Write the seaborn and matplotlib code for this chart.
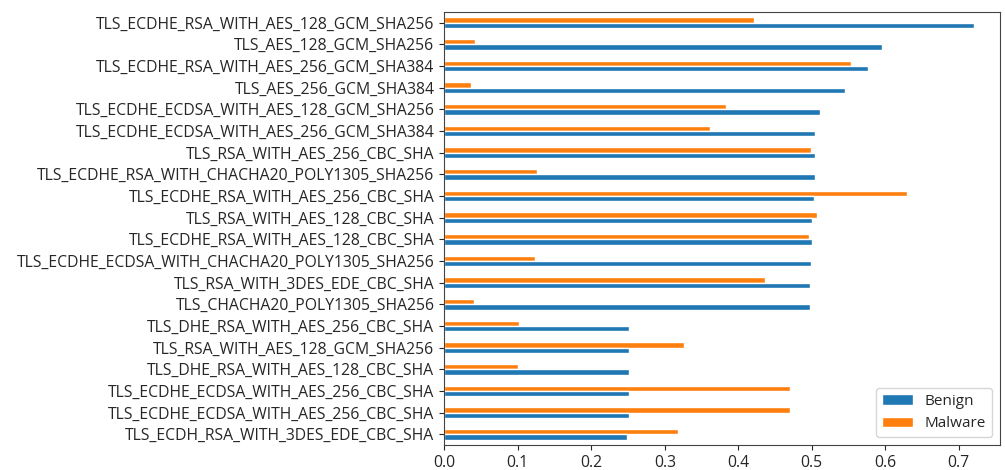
import matplotlib
matplotlib.use("Agg")
import matplotlib.pyplot as plt
import seaborn as sns
import pandas as pd

# cipher suites, top to bottom as shown
ciphers = [
    "TLS_ECDHE_RSA_WITH_AES_128_GCM_SHA256",
    "TLS_AES_128_GCM_SHA256",
    "TLS_ECDHE_RSA_WITH_AES_256_GCM_SHA384",
    "TLS_AES_256_GCM_SHA384",
    "TLS_ECDHE_ECDSA_WITH_AES_128_GCM_SHA256",
    "TLS_ECDHE_ECDSA_WITH_AES_256_GCM_SHA384",
    "TLS_RSA_WITH_AES_256_CBC_SHA",
    "TLS_ECDHE_RSA_WITH_CHACHA20_POLY1305_SHA256",
    "TLS_ECDHE_RSA_WITH_AES_256_CBC_SHA",
    "TLS_RSA_WITH_AES_128_CBC_SHA",
    "TLS_ECDHE_RSA_WITH_AES_128_CBC_SHA",
    "TLS_ECDHE_ECDSA_WITH_CHACHA20_POLY1305_SHA256",
    "TLS_RSA_WITH_3DES_EDE_CBC_SHA",
    "TLS_CHACHA20_POLY1305_SHA256",
    "TLS_DHE_RSA_WITH_AES_256_CBC_SHA",
    "TLS_RSA_WITH_AES_128_GCM_SHA256",
    "TLS_DHE_RSA_WITH_AES_128_CBC_SHA",
    "TLS_ECDHE_ECDSA_WITH_AES_256_CBC_SHA",
    "TLS_ECDHE_ECDSA_WITH_AES_256_CBC_SHA",
    "TLS_ECDH_RSA_WITH_3DES_EDE_CBC_SHA",
]
benign = [0.721, 0.595, 0.576, 0.545, 0.511, 0.505, 0.504, 0.504, 0.503, 0.500,
          0.500, 0.499, 0.497, 0.497, 0.251, 0.251, 0.251, 0.251, 0.251, 0.249]
malware = [0.422, 0.042, 0.553, 0.036, 0.383, 0.362, 0.499, 0.126, 0.630, 0.507,
           0.496, 0.123, 0.436, 0.040, 0.102, 0.326, 0.100, 0.471, 0.471, 0.318]

# one label appears twice, so key the rows by position
keys = [str(i) for i in range(len(ciphers))]
df = pd.DataFrame({"Key": keys, "Benign": benign, "Malware": malware})
df_long = df.melt(id_vars="Key", var_name="Class", value_name="Score")

sns.set_style("ticks")
plt.rcParams["font.family"] = ["Open Sans", "DejaVu Sans"]

fig, ax = plt.subplots(figsize=(10.05, 4.70), dpi=100)
palette = {"Benign": "#1f77b4", "Malware": "#ff7f0e"}
sns.barplot(data=df_long, y="Key", x="Score", hue="Class",
            hue_order=["Malware", "Benign"], palette=palette,
            order=keys, width=0.5, orient="h", ax=ax, saturation=1)

ax.set_yticks(range(len(ciphers)), ciphers)
ax.set_xlim(0, 0.756)
ax.set_xticks([0.0, 0.1, 0.2, 0.3, 0.4, 0.5, 0.6, 0.7])
ax.set_xlabel("")
ax.set_ylabel("")
ax.tick_params(labelsize=11.3, length=3.5)
for s in ax.spines.values():
    s.set_visible(True)
    s.set_color("#444444")

handles, labels = ax.get_legend_handles_labels()
ax.legend(handles[::-1], labels[::-1], loc="lower right", fontsize=11, title=None)

plt.subplots_adjust(left=0.442, right=0.995, top=0.975, bottom=0.053)
fig.savefig("out.png", dpi=100)
